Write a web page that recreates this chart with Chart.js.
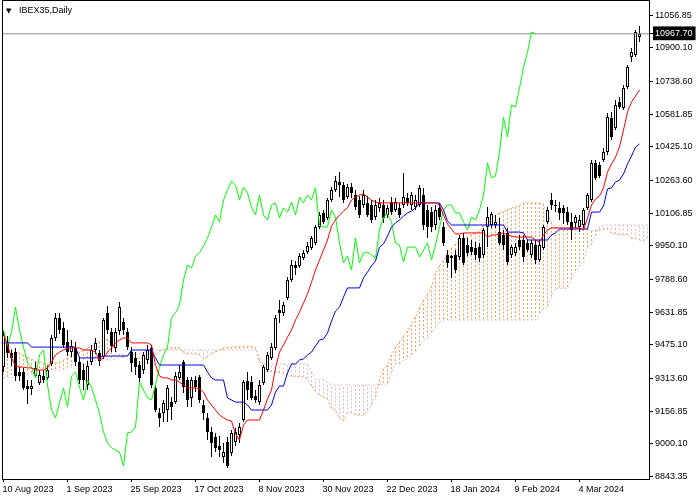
<!DOCTYPE html>
<html>
<head>
<meta charset="utf-8">
<title>IBEX35, Daily</title>
<script src="https://cdn.jsdelivr.net/npm/chart.js@4.4.1/dist/chart.umd.min.js"></script>
<style>
	html, body { margin: 0; padding: 0; background: #ffffff; }
	#chart { display: block; }
</style>
</head>
<body>
<canvas id="chart" width="700" height="500"></canvas>
<script>

// IBEX35 daily candles, 10 Aug 2023 .. 25 Mar 2024 (one entry per trading day)
var dateLabels = ['10 Aug 2023', '1 Sep 2023', '25 Sep 2023', '17 Oct 2023', '8 Nov 2023',
	'30 Nov 2023', '22 Dec 2023', '18 Jan 2024', '9 Feb 2024', '4 Mar 2024'];
var labelBars = [0, 16, 32, 48, 64, 80, 96, 112, 128, 144];

var opens = [9368,9484,9436,9440,9344,9344,9277,9263,9325,9292,
	9325,9316,9383,9508,9604,9556,9488,9440,9460,9392,
	9354,9282,9392,9450,9436,9416,9628,9536,9460,9541,
	9584,9536,9440,9412,9378,9354,9402,9460,9268,9148,
	9148,9162,9200,9200,9316,9392,9306,9220,9306,9320,
	9186,9124,9056,9032,8989,8936,9008,8956,9008,9042,
	9114,9301,9296,9229,9200,9292,9354,9412,9460,9642,
	9628,9700,9786,9858,9853,9892,9920,9940,9964,10040,
	10108,10084,10170,10218,10256,10242,10184,10232,10194,10170,
	10146,10156,10146,10088,10132,10146,10098,10160,10122,10132,
	10146,10180,10146,10136,10146,10194,10122,10112,10050,10132,
	10040,9906,9892,9906,9896,9988,9954,9944,9940,9944,
	9906,10040,10050,10050,10016,10002,10012,9906,9916,9978,
	9978,9964,9906,9954,9882,9940,10064,10170,10141,10132,
	10132,10112,10064,10060,10040,10050,10132,10170,10348,10338,
	10362,10400,10564,10516,10640,10612,10712,10856,10866,10952];

var highs = [9546,9517,9450,9460,9368,9364,9306,9306,9392,9354,
	9354,9373,9522,9628,9628,9584,9546,9498,9488,9416,
	9383,9397,9474,9508,9450,9604,9661,9556,9556,9680,
	9604,9556,9464,9440,9397,9440,9474,9474,9282,9172,
	9210,9282,9224,9344,9378,9402,9320,9320,9325,9330,
	9210,9148,9080,9052,9037,9004,9032,9066,9076,9100,
	9306,9344,9325,9258,9306,9378,9440,9484,9618,9690,
	9680,9800,9882,9877,9916,9930,9968,9997,10050,10112,
	10122,10180,10232,10285,10304,10256,10247,10252,10218,10189,
	10218,10189,10170,10170,10180,10170,10146,10184,10180,10156,
	10300,10204,10208,10194,10242,10228,10146,10136,10146,10156,
	10064,9930,9906,9930,10002,10012,9988,9978,9968,9964,
	10036,10136,10112,10098,10084,10026,10036,9954,9964,10002,
	10002,9978,9978,9978,9978,10050,10136,10204,10170,10160,
	10146,10136,10108,10098,10098,10132,10204,10362,10362,10352,
	10420,10588,10592,10650,10664,10722,10818,10900,10986,11005];

var lows = [9344,9412,9373,9301,9301,9258,9191,9234,9316,9282,
	9292,9306,9373,9493,9527,9460,9421,9416,9373,9287,
	9258,9258,9378,9431,9373,9407,9527,9440,9440,9522,
	9522,9450,9344,9330,9296,9335,9383,9268,9152,9080,
	9104,9104,9114,9191,9306,9244,9176,9176,9248,9196,
	9114,9018,8936,8960,8936,8908,8884,8941,8989,9004,
	9104,9210,9210,9196,9186,9282,9344,9402,9450,9580,
	9613,9690,9776,9810,9844,9882,9911,9930,9954,10031,
	10055,10074,10160,10208,10184,10156,10175,10180,10122,10084,
	10132,10088,10060,10074,10112,10060,10084,10098,10112,10084,
	10132,10141,10122,10122,10136,10026,9988,10016,10026,10074,
	9949,9844,9796,9820,9882,9858,9901,9906,9882,9872,
	9892,9944,10036,10036,9954,9930,9858,9892,9901,9930,
	9872,9920,9892,9863,9872,9930,10055,10122,10112,10074,
	10055,10050,9978,10036,10016,10036,10122,10160,10266,10276,
	10352,10386,10458,10506,10607,10602,10703,10832,10856,10928];

var closes = [9522,9436,9412,9325,9325,9268,9263,9277,9364,9330,
	9306,9354,9508,9604,9546,9474,9440,9469,9392,9306,
	9306,9373,9450,9484,9397,9594,9546,9469,9536,9656,
	9546,9464,9388,9368,9316,9426,9450,9282,9162,9124,
	9196,9268,9176,9325,9344,9272,9210,9306,9272,9210,
	9148,9056,9004,8980,8970,8960,8893,9052,9056,9080,
	9296,9258,9220,9210,9282,9368,9426,9464,9604,9628,
	9666,9786,9858,9844,9901,9916,9949,9988,10040,10098,
	10064,10170,10218,10261,10242,10170,10232,10204,10136,10098,
	10194,10098,10074,10146,10156,10084,10132,10112,10160,10098,
	10184,10156,10194,10170,10228,10050,10040,10040,10122,10088,
	9964,9868,9901,9834,9988,9868,9916,9920,9906,9892,
	10026,10088,10103,10064,9964,9954,9872,9944,9944,9944,
	9896,9930,9964,9882,9954,10040,10122,10146,10146,10108,
	10108,10064,10026,10088,10074,10122,10194,10348,10276,10285,
	10400,10568,10472,10626,10616,10708,10808,10880,10976,10967.70];

// Ichimoku (9, 26, 52) as drawn on the chart
var tenkan = [9522,9474,9412,9373,9368,9368,9364,9364,9354,9354,
	9354,9364,9392,9426,9440,9450,9460,9460,9460,9460,
	9450,9450,9450,9440,9402,9412,9440,9460,9484,9498,
	9508,9508,9484,9484,9484,9484,9484,9474,9378,9325,
	9316,9316,9306,9306,9296,9282,9268,9268,9268,9263,
	9248,9210,9186,9162,9138,9124,9114,9109,9047,9018,
	9090,9114,9114,9114,9114,9162,9215,9258,9364,9440,
	9474,9512,9546,9594,9632,9676,9719,9776,9834,9882,
	9930,9978,10045,10074,10098,10117,10132,10170,10184,10194,
	10199,10184,10170,10160,10156,10156,10156,10156,10156,10156,
	10156,10156,10156,10156,10156,10156,10156,10156,10156,10146,
	10098,10055,10031,10007,10007,10012,10012,10012,10012,10012,
	10012,9992,10002,10002,10007,10012,10002,9997,9992,9992,
	9992,9992,9992,9978,9968,10002,10026,10036,10036,10036,
	10036,10036,10036,10036,10036,10026,10084,10146,10175,10189,
	10228,10304,10343,10376,10424,10506,10592,10640,10669,10698];

var kijun = [9484,9484,9484,9484,9484,9484,9484,9464,9464,9464,
	9464,9464,9464,9464,9464,9464,9464,9464,9464,9412,
	9412,9412,9412,9412,9412,9421,9421,9421,9421,9421,
	9421,9421,9450,9450,9450,9450,9450,9450,9412,9378,
	9378,9378,9378,9378,9378,9378,9378,9378,9378,9378,
	9378,9344,9316,9306,9306,9306,9220,9210,9200,9200,
	9200,9186,9162,9162,9162,9162,9162,9186,9248,9277,
	9277,9340,9383,9383,9402,9407,9426,9440,9469,9498,
	9503,9532,9589,9637,9656,9704,9748,9748,9748,9748,
	9796,9824,9853,9877,9944,9959,9997,10040,10060,10074,
	10093,10108,10117,10132,10156,10156,10156,10156,10156,10156,
	10122,10069,10050,10050,10050,10050,10050,10050,10050,10050,
	10050,10050,10050,10050,10050,10050,10016,10016,10016,10016,
	10012,9978,9978,9978,9978,9978,9978,10002,10012,10031,
	10031,10031,10031,10031,10031,10031,10031,10112,10112,10112,
	10141,10223,10228,10256,10266,10295,10343,10381,10424,10439];

// Senkou spans, already shifted forward, one value per bar position on screen
var spanA = [9474,9464,9455,9445,9436,9426,9416,9407,9397,9392,
	9388,9383,9383,9388,9392,9402,9412,9421,9431,9440,
	9450,9460,9469,9479,9488,9498,9503,9479,9448,9428,
	9426,9426,9424,9414,9409,9409,9409,9414,9428,9445,
	9452,9457,9462,9462,9462,9436,9431,9431,9431,9426,
	9407,9416,9431,9440,9452,9460,9464,9464,9467,9467,
	9467,9467,9467,9462,9395,9352,9347,9347,9342,9342,
	9337,9330,9323,9323,9323,9320,9313,9277,9251,9234,
	9222,9215,9167,9160,9124,9109,9145,9150,9138,9138,
	9138,9162,9188,9222,9306,9359,9376,9426,9464,9488,
	9517,9541,9572,9608,9652,9690,9716,9755,9817,9856,
	9877,9911,9940,9959,9966,9971,9997,10004,10012,10019,
	10050,10057,10076,10098,10108,10115,10124,10132,10136,10144,
	10156,10156,10156,10156,10156,10151,10110,10062,10040,10028,
	10028,10031,10031,10031,10031,10031,10031,10021,10026,10026,
	10028,10031,10009,10007,10004,10004,10002,9985,9985,9978,
	9973,9990];

var spanB = [9316,9316,9320,9320,9325,9325,9330,9330,9335,9340,
	9344,9349,9354,9354,9354,9359,9364,9368,9373,9378,
	9383,9388,9392,9397,9402,9402,9402,9402,9407,9412,
	9416,9421,9426,9431,9436,9440,9445,9450,9450,9450,
	9450,9450,9450,9450,9450,9450,9450,9450,9450,9450,
	9450,9450,9450,9450,9450,9450,9450,9450,9450,9450,
	9450,9450,9450,9450,9416,9383,9383,9383,9383,9383,
	9383,9383,9383,9383,9383,9383,9383,9349,9308,9308,
	9308,9294,9282,9282,9282,9282,9282,9282,9282,9282,
	9282,9282,9282,9282,9282,9287,9287,9342,9383,9383,
	9400,9407,9426,9440,9467,9498,9503,9532,9558,9584,
	9594,9594,9594,9594,9594,9594,9594,9594,9594,9594,
	9594,9594,9594,9594,9594,9594,9594,9594,9594,9594,
	9594,9594,9594,9594,9623,9647,9654,9704,9745,9745,
	9745,9745,9793,9824,9853,9877,9942,9959,9997,10040,
	10050,10050,10050,10050,10050,10050,10050,10050,10050,10050,
	10050,10050];

var chikouShift = 26;

// right-hand price scale
var priceTicks = [8843.35, 9000.10, 9156.85, 9313.60, 9475.10, 9631.85, 9788.60,
	9950.10, 10106.85, 10263.60, 10425.10, 10581.85, 10738.60, 10900.10, 11056.85];
var lastPrice = closes[closes.length - 1];

var xMin = -0.375, xMax = 161.375;
var yMin = 8830.8, yMax = 11125.2;

var labelFont = { family: '"Liberation Sans", Arial, sans-serif', size: 9 };
var kumoUpColor = '#f4a460';   // SandyBrown
var kumoDownColor = '#d8bfd8'; // Thistle

function asPoints(values, offset) {
	return values.map(function(v, i) { return { x: i + offset, y: v }; });
}

function lineSet(label, data, color, dash, order) {
	return {
		type: 'line',
		label: label,
		data: data,
		borderColor: color,
		borderWidth: 1,
		borderDash: dash || [],
		pointRadius: 0,
		fill: false,
		tension: 0,
		order: order
	};
}

var wickData = [];
var bodyData = [];
for (var i = 0; i < closes.length; i++) {
	wickData.push({ x: i, y: [lows[i], highs[i]] });
	bodyData.push({ x: i, y: [opens[i], closes[i]] });
}

var datasets = [
	lineSet('Tenkan-sen', asPoints(tenkan, 0), '#ff0000', null, 0),
	lineSet('Kijun-sen', asPoints(kijun, 0), '#0000d8', null, 0),
	lineSet('Chikou Span', asPoints(closes.slice(chikouShift), 0), '#00ff00', null, 0),
	lineSet('Bid', [{ x: xMin, y: lastPrice }, { x: xMax, y: lastPrice }], '#8c8c8c', null, 0),
	{
		type: 'bar',
		label: 'Body',
		data: bodyData,
		backgroundColor: function(c) {
			var n = c.dataIndex;
			return closes[n] >= opens[n] ? '#ffffff' : '#000000';
		},
		borderColor: '#000000',
		borderWidth: 1,
		borderSkipped: false,
		barThickness: 3,
		minBarLength: 1,
		grouped: false,
		inflateAmount: 0,
		order: 1
	},
	{
		type: 'bar',
		label: 'Wick',
		data: wickData,
		backgroundColor: '#000000',
		borderWidth: 0,
		barThickness: 1,
		grouped: false,
		inflateAmount: 0,
		order: 2
	},
	lineSet('Senkou Span A', asPoints(spanA, 0), kumoUpColor, [2, 2], 3),
	lineSet('Senkou Span B', asPoints(spanB, 0), kumoDownColor, [2, 2], 3)
];

// kumo: one dotted vertical stroke per bar between the two spans (MT4 histogram)
for (var k = 0; k < spanA.length; k++) {
	var up = spanA[k] >= spanB[k];
	datasets.push(lineSet('Kumo', [{ x: k, y: spanA[k] }, { x: k, y: spanB[k] }],
		up ? kumoUpColor : kumoDownColor, [2, 2], 4));
}

// frame round the plot and the symbol caption
var chartFrame = {
	id: 'chartFrame',
	afterDraw: function(chart) {
		var c = chart.ctx;
		var a = chart.chartArea;
		c.save();
		c.strokeStyle = '#000000';
		c.lineWidth = 1;
		c.strokeRect(a.left + 0.5, a.top - 0.5, a.right - a.left, a.bottom - a.top + 1);
		c.fillStyle = '#000000';
		c.textBaseline = 'middle';
		c.font = '7px "DejaVu Sans"';
		c.fillText('\u25BC', a.left + 4, a.top + 10);
		c.font = '9px "Liberation Sans", Arial, sans-serif';
		c.fillText('IBEX35,Daily', a.left + 17, a.top + 10);
		c.restore();
	}
};

var chart = new Chart(document.getElementById('chart'), {
	type: 'bar',
	data: { datasets: datasets },
	options: {
		responsive: false,
		animation: false,
		events: [],
		layout: { padding: { left: 2, top: 1, right: 0, bottom: 0 } },
		plugins: {
			legend: { display: false },
			tooltip: { enabled: false },
			title: { display: false }
		},
		scales: {
			x: {
				type: 'linear',
				min: xMin,
				max: xMax,
				offset: false,
				afterBuildTicks: function(s) {
					s.ticks = labelBars.map(function(v) { return { value: v }; });
				},
				afterFit: function(s) {
					s.height = 21;
					s.paddingLeft = 0;
					s.paddingRight = 0;
				},
				ticks: {
					callback: function(v, n) { return dateLabels[n]; },
					align: 'start',
					labelOffset: -1,
					maxRotation: 0,
					autoSkip: false,
					padding: 2,
					color: '#000000',
					font: labelFont
				},
				grid: { drawOnChartArea: false, drawTicks: true, tickLength: 3, color: '#000000', offset: false },
				border: { display: false }
			},
			y: {
				type: 'linear',
				position: 'right',
				min: yMin,
				max: yMax,
				afterBuildTicks: function(s) {
					s.ticks = priceTicks.concat([lastPrice]).map(function(v) { return { value: v }; });
				},
				afterFit: function(s) {
					s.width = 51;
					s.paddingTop = 0;
					s.paddingBottom = 0;
				},
				ticks: {
					callback: function(v) { return v.toFixed(2); },
					autoSkip: false,
					padding: 2,
					font: labelFont,
					color: function(c) { return c.tick && c.tick.value === lastPrice ? '#ffffff' : '#000000'; },
					showLabelBackdrop: function(c) { return !!(c.tick && c.tick.value === lastPrice); },
					backdropColor: '#000000',
					backdropPadding: { top: 2, bottom: 1, left: 2, right: 3 }
				},
				grid: { drawOnChartArea: false, drawTicks: true, tickLength: 4, color: '#000000' },
				border: { display: false }
			}
		}
	},
	plugins: [chartFrame]
});
</script>
</body>
</html>
